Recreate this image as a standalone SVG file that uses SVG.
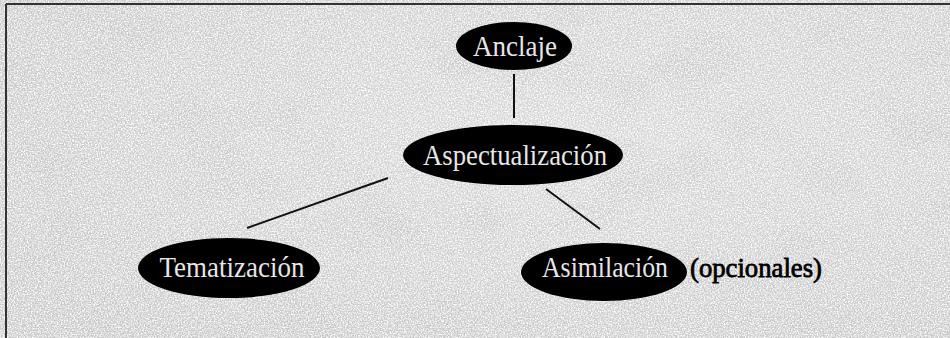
<svg xmlns="http://www.w3.org/2000/svg" width="950" height="338" viewBox="0 0 950 338">
  <defs>
    <filter id="noise" x="0" y="0" width="100%" height="100%">
      <feTurbulence type="fractalNoise" baseFrequency="0.7" numOctaves="2" seed="3" result="t"/>
      <feColorMatrix in="t" type="matrix" values="0 0 0 0 1  0 0 0 0 1  0 0 0 0 1  0 0 0 -2.4 1.55"/>
    </filter>
    <filter id="blotch" x="0" y="0" width="100%" height="100%">
      <feTurbulence type="fractalNoise" baseFrequency="0.012 0.02" numOctaves="2" seed="7" result="t"/>
      <feColorMatrix in="t" type="matrix" values="0 0 0 0 0.55  0 0 0 0 0.55  0 0 0 0 0.55  0 0 0 1.6 -0.75"/>
    </filter>
    <radialGradient id="bgGrad" cx="0.6" cy="0.4" r="0.75">
      <stop offset="0" stop-color="#d6d6d6"/>
      <stop offset="1" stop-color="#c8c8c8"/>
    </radialGradient>
  </defs>
  <style>
    .node ellipse { fill: #000; }
    .node text { fill: #e6e6e6; font-family: "Liberation Serif", "Times New Roman", serif; font-size: 30px; text-anchor: middle; }
    .conn line { stroke: #111; stroke-width: 2; }
    .note { fill: #000; font-family: "Liberation Serif", "Times New Roman", serif; font-size: 28px; stroke: #000; stroke-width: 0.8; }
  </style>
  <rect width="950" height="338" fill="url(#bgGrad)"/>
  <rect width="950" height="338" filter="url(#blotch)"/>
  <rect width="950" height="338" filter="url(#noise)"/>
  <line x1="6" y1="4" x2="950" y2="4" stroke="#333" stroke-width="2"/>
  <line x1="6" y1="4" x2="6" y2="338" stroke="#333" stroke-width="2"/>
  <g id="connectors" class="conn">
    <line x1="514" y1="74" x2="514" y2="118"/>
    <line x1="388" y1="178" x2="247" y2="228"/>
    <line x1="546" y1="189" x2="600" y2="229"/>
  </g>
  <g id="anclaje" class="node">
    <ellipse cx="514" cy="46" rx="58" ry="24"/>
    <text x="515" y="56" textLength="84" lengthAdjust="spacingAndGlyphs">Anclaje</text>
  </g>
  <g id="aspectualizacion" class="node">
    <ellipse cx="513" cy="155" rx="110" ry="30"/>
    <text x="515" y="165" textLength="184" lengthAdjust="spacingAndGlyphs">Aspectualización</text>
  </g>
  <g id="tematizacion" class="node">
    <ellipse cx="229" cy="268" rx="91" ry="30"/>
    <text x="232" y="277" textLength="145" lengthAdjust="spacingAndGlyphs">Tematización</text>
  </g>
  <g id="asimilacion" class="node">
    <ellipse cx="604" cy="272" rx="83" ry="29"/>
    <text x="605" y="277" textLength="126" lengthAdjust="spacingAndGlyphs">Asimilación</text>
  </g>
  <text class="note" x="690" y="277" textLength="132" lengthAdjust="spacingAndGlyphs">(opcionales)</text>
</svg>
